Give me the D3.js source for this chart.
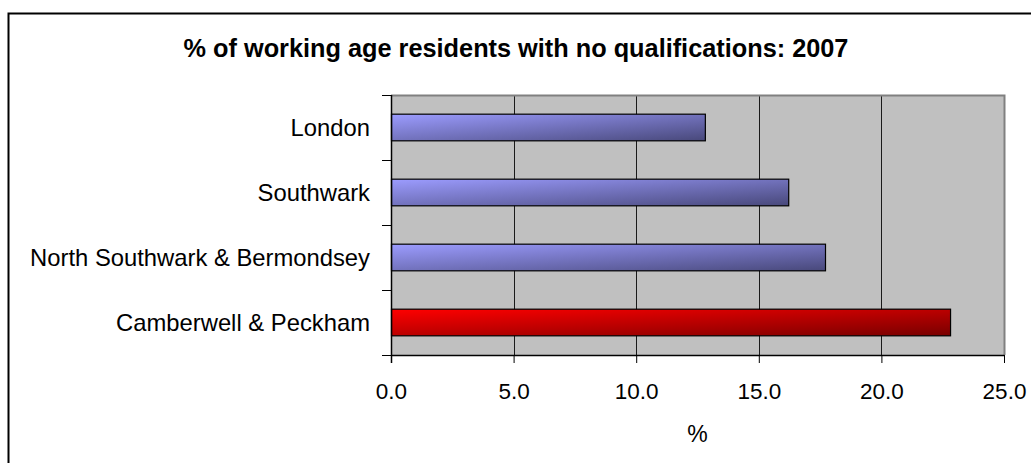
<!DOCTYPE html>
<html>
<head>
<meta charset="utf-8">
<script src="https://cdn.jsdelivr.net/npm/d3@7"></script>
<style>
  html, body { margin: 0; padding: 0; background: #ffffff; }
  svg { display: block; font-family: "Liberation Sans", Arial, sans-serif; }
</style>
</head>
<body>
<svg id="chart" width="1031" height="463"></svg>
<script>
// Areas, top to bottom
const categories = ["London", "Southwark", "North Southwark & Bermondsey", "Camberwell & Peckham"];
// % of working age residents with no qualifications, 2007
const values = [12.8, 16.2, 17.7, 22.8];
// Highlighted area
const highlight = ["Camberwell & Peckham"];
// Value axis ticks
const xTicks = [0, 5, 10, 15, 20, 25];

const titleText = "% of working age residents with no qualifications: 2007";
const xTitle = "%";

const svg = d3.select("#chart");
const W = 1031, H = 463;
const plot = { left: 391, right: 1004, top: 95, bottom: 355 };

// Outer chart frame (runs off the right and bottom edges)
svg.append("rect")
  .attr("x", 8.5).attr("y", 13.5)
  .attr("width", W + 10).attr("height", H + 10)
  .attr("fill", "#ffffff").attr("stroke", "#000000").attr("stroke-width", 2);

const defs = svg.append("defs");
function gradient(id, c0, c1) {
  const g = defs.append("linearGradient").attr("id", id)
    .attr("x1", 0).attr("y1", 0).attr("x2", 1).attr("y2", 1);
  g.append("stop").attr("offset", "0%").attr("stop-color", c0);
  g.append("stop").attr("offset", "100%").attr("stop-color", c1);
}
gradient("gBlue", "#9c9cff", "#48487a");
gradient("gRed", "#ff0000", "#780000");

const x = d3.scaleLinear().domain([0, 25]).range([plot.left, plot.right]);
const y = d3.scaleBand().domain(categories).range([plot.top, plot.bottom])
  .paddingInner(0.59).paddingOuter(0.295);

// Plot area background
svg.append("rect")
  .attr("x", plot.left).attr("y", plot.top)
  .attr("width", plot.right - plot.left).attr("height", plot.bottom - plot.top)
  .attr("fill", "#c0c0c0");

// Vertical gridlines
svg.append("g")
  .selectAll("line")
  .data(xTicks.slice(1, -1))
  .join("line")
  .attr("x1", d => Math.round(x(d)) + 0.5).attr("x2", d => Math.round(x(d)) + 0.5)
  .attr("y1", plot.top).attr("y2", plot.bottom)
  .attr("stroke", "#1a1a1a").attr("stroke-width", 1);

// Plot area top and right border
svg.append("path")
  .attr("d", `M${plot.left},${plot.top + 0.5}H${plot.right + 0.5}V${plot.bottom}`)
  .attr("fill", "none").attr("stroke", "#808080").attr("stroke-width", 2);

// Bars
svg.append("g")
  .selectAll("rect")
  .data(categories.map((c, i) => ({ c, v: values[i] })))
  .join("rect")
  .attr("x", x(0) + 0.5)
  .attr("y", d => y(d.c))
  .attr("width", d => x(d.v) - x(0))
  .attr("height", y.bandwidth())
  .attr("fill", d => highlight.includes(d.c) ? "url(#gRed)" : "url(#gBlue)")
  .attr("stroke", "#000000").attr("stroke-width", 1.2);

// Value axis
const xAxis = svg.append("g")
  .attr("transform", `translate(0,${plot.bottom})`)
  .call(d3.axisBottom(x).tickValues(xTicks).tickFormat(d3.format(".1f"))
    .tickSizeInner(8).tickSizeOuter(0).tickPadding(20));
xAxis.select(".domain").attr("stroke", "#000000").attr("stroke-width", 1.5);
xAxis.selectAll(".tick line").attr("stroke", "#000000");
xAxis.selectAll(".tick text")
  .attr("font-size", 22.5).attr("fill", "#000000")
  .attr("font-family", "'Liberation Sans', Arial, sans-serif");

// Category axis
const yTicksScale = d3.scalePoint().domain(d3.range(categories.length + 1))
  .range([plot.top, plot.bottom]);
const yAxisG = svg.append("g").attr("transform", `translate(${plot.left},0)`);
yAxisG.append("line")
  .attr("x1", 0.5).attr("x2", 0.5).attr("y1", plot.top).attr("y2", plot.bottom + 8)
  .attr("stroke", "#000000").attr("stroke-width", 1.5);
yAxisG.selectAll("line.tk")
  .data(yTicksScale.domain())
  .join("line").attr("class", "tk")
  .attr("x1", -9).attr("x2", 0)
  .attr("y1", d => yTicksScale(d) + 0.5).attr("y2", d => yTicksScale(d) + 0.5)
  .attr("stroke", "#000000").attr("stroke-width", 1);
yAxisG.selectAll("text")
  .data(categories)
  .join("text")
  .attr("x", -21)
  .attr("y", d => y(d) + y.bandwidth() / 2)
  .attr("dy", "0.36em")
  .attr("text-anchor", "end")
  .attr("font-size", 23.8)
  .attr("fill", "#000000")
  .text(d => d);

// Axis title
svg.append("text")
  .attr("x", (plot.left + plot.right) / 2).attr("y", 442)
  .attr("text-anchor", "middle").attr("font-size", 23).attr("fill", "#000000")
  .text(xTitle);

// Chart title
svg.append("text")
  .attr("x", 516).attr("y", 57)
  .attr("text-anchor", "middle").attr("font-size", 25.3).attr("font-weight", "bold")
  .attr("fill", "#000000")
  .text(titleText);
</script>
</body>
</html>
